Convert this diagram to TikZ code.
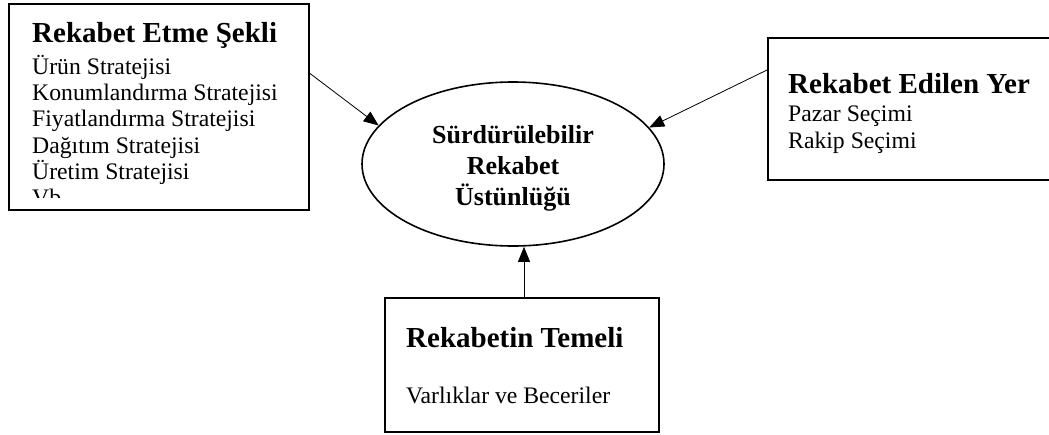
\documentclass[tikz,border=0pt]{standalone}
\usepackage{fontspec}
\setmainfont{Liberation Serif}
\usetikzlibrary{shapes.geometric,arrows.meta}

\tikzset{
  frame/.style={draw=black, line width=1.7pt, inner sep=0pt, anchor=north west},
  oval/.style={draw=black, line width=1.6pt, ellipse, inner sep=0pt},
  head/.style={anchor=base west, inner sep=0pt, font=\fontsize{29}{32}\selectfont\bfseries},
  item/.style={anchor=base west, inner sep=0pt, font=\fontsize{23.7}{26}\selectfont},
  midtext/.style={anchor=base, inner sep=0pt, font=\fontsize{26}{30}\selectfont\bfseries},
  arr/.style={line width=0.8pt, -{Triangle[length=15pt,width=12pt]}}
}

\begin{document}
\begin{tikzpicture}[x=1pt,y=-1pt]
\useasboundingbox (0,0) rectangle (1049,434);
\clip (0,0) rectangle (1049,434);

% boxes
\node[frame, minimum width=300pt, minimum height=206pt] (left) at (8,3) {};
\node[frame, minimum width=300pt, minimum height=142pt] (right) at (767,37) {};
\node[frame, minimum width=274pt, minimum height=134pt] (bottom) at (384,297) {};

% central ellipse
\node[oval, minimum width=302pt, minimum height=164pt] (goal) at (513,164) {};
\node[midtext] (g1) at (513,143) {Sürdürülebilir};
\node[midtext] (g2) at (513,174) {Rekabet};
\node[midtext] (g3) at (513,205) {Üstünlüğü};

% left box contents
\node[head] (lt) at (32,42) {Rekabet Etme Şekli};
\node[item] (l1) at (32,74) {Ürün Stratejisi};
\node[item] (l2) at (32,100) {Konumlandırma Stratejisi};
\node[item] (l3) at (32,126) {Fiyatlandırma Stratejisi};
\node[item] (l4) at (32,153) {Dağıtım Stratejisi};
\node[item] (l5) at (32,179) {Üretim Stratejisi};
\begin{scope}
  \clip (8,3) rectangle (308,197);
  \node[item] (l6) at (32,205) {Vb.};
\end{scope}

% right box contents
\node[head] (rt) at (788,93) {Rekabet Edilen Yer};
\node[item] (r1) at (788,121) {Pazar Seçimi};
\node[item] (r2) at (788,148) {Rakip Seçimi};

% bottom box contents
\node[head] (bt) at (406,347) {Rekabetin Temeli};
\node[item] (b1) at (406,403) {Varlıklar ve Beceriler};

% connectors
\coordinate (ls) at (308,72);
\coordinate (rs) at (767,70);
\coordinate (bs) at (524,297);
\draw[arr] (ls) -- (goal.164);
\draw[arr] (rs) -- (goal.15);
\draw[arr] (bs) -- (bs |- goal.south);
\end{tikzpicture}
\end{document}
